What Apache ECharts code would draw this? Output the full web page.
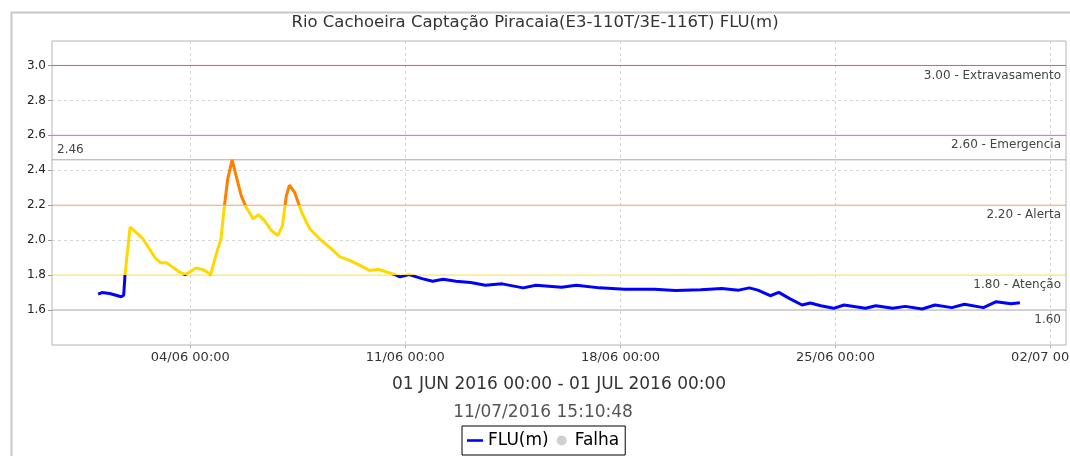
<!DOCTYPE html>
<html>
<head>
<meta charset="utf-8">
<title>FLU(m)</title>
<script src="https://cdn.jsdelivr.net/npm/echarts@6/dist/echarts.min.js"></script>
<style>
  html, body { margin: 0; padding: 0; background: #fff; }
  #chart { width: 1070px; height: 456px; }
</style>
</head>
<body>
<div id="chart"></div>
<script>
// readings, June 2016
var times = [
  '2016-06-01 00:00', '2016-06-01 03:00', '2016-06-01 09:00', '2016-06-01 14:00', '2016-06-01 18:00',
  '2016-06-01 20:00', '2016-06-01 21:00', '2016-06-02 01:00', '2016-06-02 07:00', '2016-06-02 11:00',
  '2016-06-02 16:00', '2016-06-02 21:00', '2016-06-03 01:00', '2016-06-03 05:30', '2016-06-03 10:00',
  '2016-06-03 15:30', '2016-06-03 20:00', '2016-06-04 00:30', '2016-06-04 04:30', '2016-06-04 09:30',
  '2016-06-04 16:00', '2016-06-04 20:00', '2016-06-05 00:00', '2016-06-05 02:40', '2016-06-05 05:15',
  '2016-06-05 08:40', '2016-06-05 11:50', '2016-06-05 15:50', '2016-06-05 19:40', '2016-06-06 01:00',
  '2016-06-06 05:20', '2016-06-06 10:00', '2016-06-06 15:20', '2016-06-06 20:30', '2016-06-07 00:00',
  '2016-06-07 03:00', '2016-06-07 05:30', '2016-06-07 09:30', '2016-06-07 15:00', '2016-06-07 21:20',
  '2016-06-08 05:00', '2016-06-08 13:00', '2016-06-08 21:00', '2016-06-09 04:30', '2016-06-09 12:30',
  '2016-06-09 20:00', '2016-06-10 03:00', '2016-06-10 09:20', '2016-06-10 16:00', '2016-06-10 19:40',
  '2016-06-11 03:00', '2016-06-11 13:00', '2016-06-11 21:20', '2016-06-12 05:30', '2016-06-12 15:30',
  '2016-06-13 03:00', '2016-06-13 14:30', '2016-06-14 03:30', '2016-06-14 20:00', '2016-06-15 06:00',
  '2016-06-16 02:00', '2016-06-16 13:30', '2016-06-17 07:40', '2016-06-18 03:00', '2016-06-19 02:30',
  '2016-06-19 19:00', '2016-06-20 14:40', '2016-06-21 07:10', '2016-06-21 20:20', '2016-06-22 04:40',
  '2016-06-22 11:20', '2016-06-22 21:00', '2016-06-23 03:40', '2016-06-23 11:50', '2016-06-23 21:50',
  '2016-06-24 04:20', '2016-06-24 12:30', '2016-06-24 22:30', '2016-06-25 06:40', '2016-06-25 23:20',
  '2016-06-26 07:30', '2016-06-26 20:40', '2016-06-27 06:30', '2016-06-27 19:40', '2016-06-28 05:40',
  '2016-06-28 18:50', '2016-06-29 04:40', '2016-06-29 19:30', '2016-06-30 05:30', '2016-06-30 17:00',
  '2016-07-01 00:00'
];
var levels = [
  1.691, 1.700, 1.695, 1.685, 1.676,
  1.685, 1.800, 2.075, 2.036, 2.008,
  1.951, 1.894, 1.871, 1.871, 1.847,
  1.818, 1.803, 1.822, 1.841, 1.833,
  1.805, 1.913, 2.008, 2.197, 2.349,
  2.460, 2.368, 2.254, 2.188, 2.122,
  2.145, 2.112, 2.055, 2.027, 2.084,
  2.254, 2.315, 2.274, 2.160, 2.065,
  2.008, 1.957, 1.904, 1.884, 1.856,
  1.827, 1.833, 1.818, 1.803, 1.790,
  1.803, 1.780, 1.765, 1.776, 1.765,
  1.758, 1.742, 1.750, 1.727, 1.742,
  1.731, 1.742, 1.727, 1.719, 1.719,
  1.712, 1.716, 1.723, 1.714, 1.727,
  1.714, 1.682, 1.701, 1.667, 1.629,
  1.640, 1.625, 1.610, 1.629, 1.610,
  1.625, 1.610, 1.621, 1.606, 1.629,
  1.614, 1.633, 1.614, 1.648, 1.636,
  1.642
];

// alert levels
var limitValues = [3.00, 2.60, 2.20, 1.80];
var limitNames = ['Extravasamento', 'Emergencia', 'Alerta', 'Atenção'];
var limitColors = ['#ff4d4d', '#f050f0', '#ff9c55', '#ffdc40'];
var maxLevel = 2.46;
var minLevel = 1.60;

var xTicks = ['2016-06-04 00:00', '2016-06-11 00:00', '2016-06-18 00:00', '2016-06-25 00:00', '2016-07-02 00:00'];
var yTicks = [1.6, 1.8, 2.0, 2.2, 2.4, 2.6, 2.8, 3.0];
var yGrid = [2.0, 2.4, 2.8]; // dashed grid where no level line sits

var FONT = 'DejaVu Sans';

function toTime(s) {
  return new Date(s.replace(' ', 'T')).getTime();
}
function pad(n) { return n < 10 ? '0' + n : '' + n; }

var xMin = toTime('2016-05-30 12:00');
var xMax = toTime('2016-07-02 12:00');

var seriesData = times.map(function (t, i) { return [toTime(t), levels[i]]; });
var tickTimes = xTicks.map(toTime);

// horizontal reference line: drawn as a flat line series, labelled by a see-through markLine
function refLine(value, text, color, position) {
  return {
    name: 'ref' + value,
    type: 'line',
    data: [[xMin, value], [xMax, value]],
    symbol: 'none',
    silent: true,
    z: 3,
    lineStyle: { color: color, type: 'solid', width: 1 },
    itemStyle: { color: color },
    emphasis: { disabled: true },
    markLine: {
      silent: true,
      symbol: 'none',
      animation: false,
      lineStyle: { color: 'rgba(0,0,0,0)', width: 1 },
      label: {
        formatter: text, position: position,
        fontFamily: FONT, fontSize: 12, color: '#444', distance: [5, 4]
      },
      data: [{ yAxis: value }]
    }
  };
}

var refSeries = limitValues.map(function (v, i) {
  return refLine(v, v.toFixed(2) + ' - ' + limitNames[i], limitColors[i], 'insideEndBottom');
});
refSeries.push(refLine(maxLevel, maxLevel.toFixed(2), '#a8a8a8', 'insideStartTop'));
refSeries.push(refLine(minLevel, minLevel.toFixed(2), '#a8a8a8', 'insideEndBottom'));

var chart = echarts.init(document.getElementById('chart'));

var option = {
  backgroundColor: '#fff',
  animation: false,
  textStyle: { fontFamily: FONT },
  title: {
    text: 'Rio Cachoeira Captação Piracaia(E3-110T/3E-116T) FLU(m)',
    left: 'center',
    top: 9,
    textStyle: { fontFamily: FONT, fontSize: 16.5, fontWeight: 'normal', color: '#333' }
  },
  graphic: [
    {
      type: 'rect', left: 9, top: 10, z: -10, silent: true,
      shape: { width: 1120, height: 520 },
      style: { fill: 'none', stroke: '#c8c8c8', lineWidth: 2 }
    },
    {
      type: 'text', x: 543, y: 413, silent: true,
      style: {
        text: '11/07/2016 15:10:48', fontFamily: FONT, fontSize: 17, fill: '#555',
        textAlign: 'center', textVerticalAlign: 'middle'
      }
    }
  ],
  legend: {
    left: 462,
    top: 426,
    padding: [6, 6, 6, 5],
    itemGap: 8,
    itemWidth: 16,
    itemHeight: 10,
    borderColor: '#000',
    borderWidth: 1,
    textStyle: { fontFamily: FONT, fontSize: 17, color: '#000' },
    data: [
      { name: 'FLU(m)', icon: 'path://M0,0 L16,0 L16,2.6 L0,2.6 Z', itemStyle: { color: '#0000ff' } },
      { name: 'Falha', icon: 'circle', itemStyle: { color: '#c4c4c4' } }
    ]
  },
  grid: {
    left: 52, top: 41, right: 4, bottom: 111,
    containLabel: false,
    outerBoundsMode: 'none',
    show: true, borderColor: '#b4b4b4', borderWidth: 1, backgroundColor: '#fff'
  },
  visualMap: {
    type: 'piecewise',
    show: false,
    seriesIndex: [0],
    dimension: 1,
    pieces: [
      { lt: 1.8, color: '#0000ff' },
      { gte: 1.8, lt: 2.2, color: '#ffd800' },
      { gte: 2.2, color: '#ff8000' }
    ]
  },
  xAxis: {
    type: 'value',
    min: xMin,
    max: xMax,
    name: '01 JUN 2016 00:00 - 01 JUL 2016 00:00',
    nameLocation: 'middle',
    nameGap: 31,
    nameTextStyle: { fontFamily: FONT, fontSize: 17, color: '#333' },
    axisLine: { show: false },
    axisTick: { show: true, length: 3, lineStyle: { color: '#b4b4b4' }, customValues: tickTimes },
    axisLabel: {
      customValues: tickTimes,
      fontFamily: FONT, fontSize: 13, color: '#333', margin: 6,
      formatter: function (v) {
        var d = new Date(v);
        return pad(d.getDate()) + '/' + pad(d.getMonth() + 1) + ' ' + pad(d.getHours()) + ':' + pad(d.getMinutes());
      }
    },
    splitLine: { show: true, lineStyle: { color: '#d6d6d6', type: [3, 3] } }
  },
  yAxis: [
    {
      type: 'value',
      min: 1.4,
      max: 3.14,
      interval: 0.2,
      axisLine: { show: false },
      axisTick: { show: true, length: 4, lineStyle: { color: '#999' }, customValues: yTicks },
      axisLabel: {
        customValues: yTicks,
        fontFamily: FONT, fontSize: 12, color: '#222', margin: 6,
        formatter: function (v) { return v.toFixed(1); }
      },
      splitLine: { show: false }
    },
    {
      // grid-only twin of the value axis
      type: 'value',
      position: 'left',
      min: 1.4,
      max: 3.14,
      interval: 0.2,
      axisLine: { show: false },
      axisTick: { show: false, customValues: yGrid },
      axisLabel: { show: false, customValues: yGrid },
      splitLine: { show: true, lineStyle: { color: '#d6d6d6', type: [3, 3] } }
    }
  ],
  series: [
    {
      name: 'FLU(m)',
      type: 'line',
      data: seriesData,
      showSymbol: false,
      lineStyle: { width: 3 },
      z: 5
    },
    {
      name: 'Falha',
      type: 'scatter',
      data: [],
      itemStyle: { color: '#c4c4c4' }
    }
  ].concat(refSeries)
};

chart.setOption(option);
</script>
</body>
</html>
